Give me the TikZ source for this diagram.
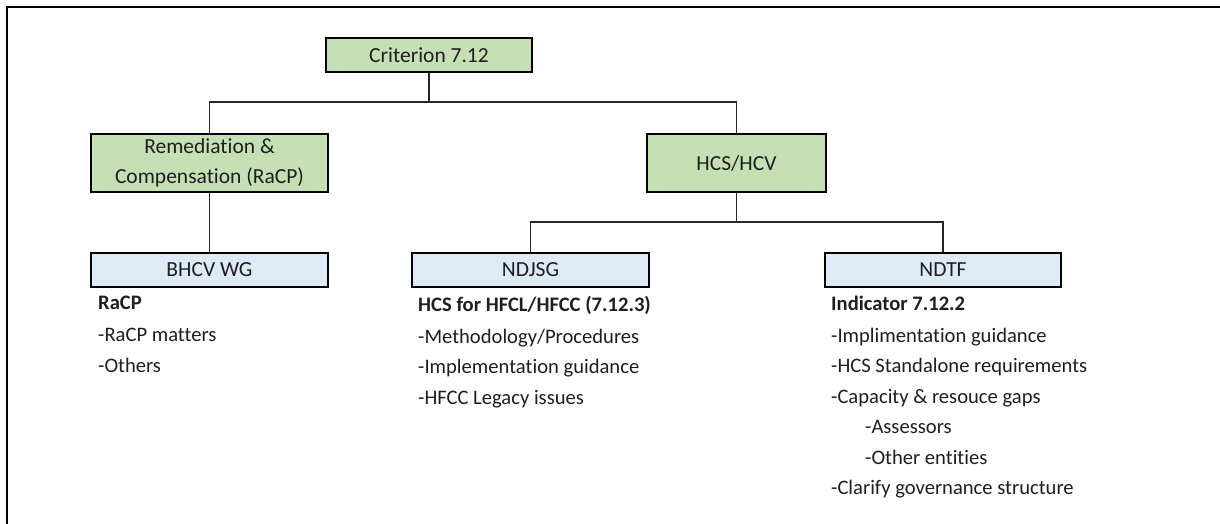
\documentclass[tikz,border=0pt]{standalone}
\usepackage{fontspec}
\setmainfont{Carlito}[Ligatures=NoCommon]
\definecolor{boxgreen}{RGB}{197,224,180}
\definecolor{boxblue}{RGB}{222,235,247}
\definecolor{txt}{RGB}{30,30,30}
\begin{document}
\begin{tikzpicture}[x=1pt,y=-1pt,
  gbox/.style={draw=black,line width=2.4pt,fill=boxgreen,text=txt,inner sep=0pt,align=center,font=\fontsize{21.5}{30}\selectfont},
  bbox/.style={draw=black,line width=2.4pt,fill=boxblue,text=txt,inner sep=0pt,align=center,minimum height=34pt,font=\fontsize{21.5}{30}\selectfont},
  conn/.style={draw=black!85,line width=1.2pt},
  list/.style={anchor=north west,inner sep=0pt,align=left,text=txt,font=\fontsize{20.6}{30.4}\selectfont}]
\useasboundingbox (0,0) rectangle (1220,524);
\draw[line width=1.5pt] (7,524) -- (7,7) -- (1220,7);

\node[gbox,minimum width=206pt,minimum height=34pt] (crit) at (429,55) {Criterion 7.12};
\node[gbox,minimum width=237pt,minimum height=58pt] (rem) at (209.5,163) {Remediation \&\\Compensation (RaCP)};
\node[gbox,minimum width=179pt,minimum height=58pt] (hcs) at (736.5,163) {HCS/HCV};
\node[bbox,minimum width=237pt] (bhcv) at (209.5,270) {BHCV WG};
\node[bbox,minimum width=237pt] (ndjsg) at (530.5,270) {NDJSG};
\node[bbox,minimum width=236pt] (ndtf) at (943,270) {NDTF};

\coordinate (j1) at (429,102);
\coordinate (j2) at (736.5,222);
\draw[conn] (crit.south) -- (j1);
\draw[conn] (rem.north) |- (j1) -| (hcs.north);
\draw[conn] (rem.south) -- (bhcv.north);
\draw[conn] (hcs.south) -- (j2);
\draw[conn] (ndjsg.north) |- (j2) -| (ndtf.north);

\node[list] (l1) at (98,296) {\textbf{RaCP}\\[1.5pt]-RaCP matters\\-Others};
\node[list] (l2) at (418,296) {\textbf{HCS for HFCL/HFCC (7.12.3)}\\[1.5pt]-Methodology/Procedures\\-Implementation guidance\\-HFCC Legacy issues};
\node[list] (l3) at (831,296) {\textbf{Indicator 7.12.2}\\[1.5pt]-Implimentation guidance\\-HCS Standalone requirements\\-Capacity \& resouce gaps\\\hspace*{34pt}-Assessors\\\hspace*{34pt}-Other entities\\-Clarify governance structure};
\end{tikzpicture}
\end{document}
